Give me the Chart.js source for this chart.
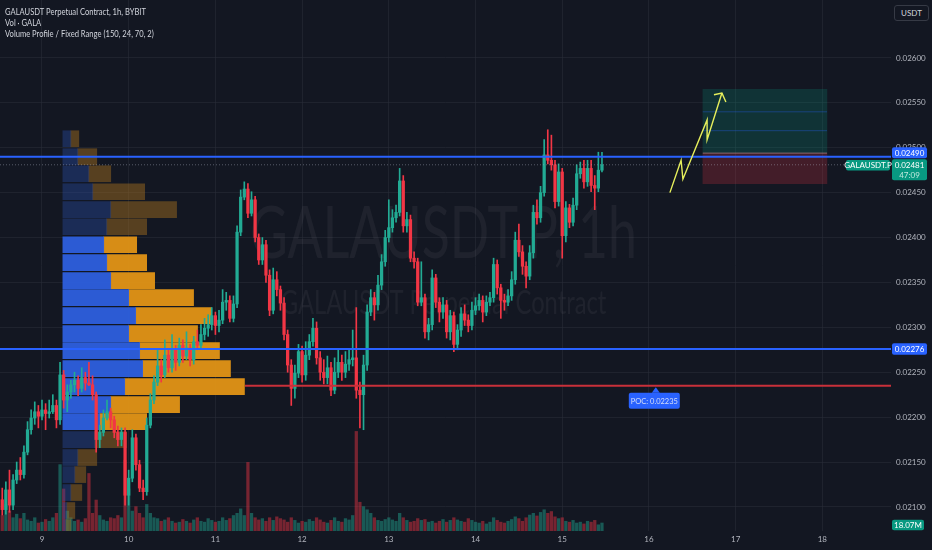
<!DOCTYPE html>
<html><head><meta charset="utf-8">
<script src="https://cdn.jsdelivr.net/npm/chart.js@4.4.1/dist/chart.umd.min.js"></script>
<style>
html,body{margin:0;padding:0;background:#131722;overflow:hidden}
#wrap{position:relative;width:932px;height:550px;background:#131722}
#c{position:absolute;left:0;top:0;width:932px;height:550px}
.lg{position:absolute;left:5px;color:#d1d4dc;font-family:Lato,"Noto Sans",sans-serif;font-size:9.5px;line-height:11px;white-space:nowrap;transform-origin:0 0;transform:scaleX(0.8)}
#cur{position:absolute;left:894px;top:5px;width:35px;height:16px;border:1px solid #363a45;border-radius:3px;box-sizing:border-box;color:#d1d4dc;font:8px Lato,sans-serif;line-height:14px;text-align:center;background:#131722}
</style></head><body>
<div id="wrap">
<canvas id="c" width="932" height="550"></canvas>
<div class="lg" style="top:6px">GALAUSDT Perpetual Contract, 1h, BYBIT</div>
<div class="lg" style="top:17px">Vol · GALA</div>
<div class="lg" style="top:28px">Volume Profile / Fixed Range (150, 24, 70, 2)</div>
<div id="cur">USDT</div>
</div>
<script>
// ---------- data ----------
const firstHour = -11;               // first candle: day 8, 13:00 (hours from day 9 00:00)
const dayTicks = [9,10,11,12,13,14,15,16,17,18];
const priceTicks = [0.021,0.0215,0.022,0.0225,0.023,0.0235,0.024,0.0245,0.025,0.0255,0.026];

const opens = [
0.02108,0.02097,0.02119,0.02102,0.02130,0.02141,0.02136,0.02161,0.02186,0.02199,
0.02206,0.02201,0.02208,0.02204,0.02206,0.02213,0.02197,0.02247,0.02219,0.02228,
0.02236,0.02241,0.02232,0.02244,0.02238,0.02236,0.02225,0.02175,0.02183,0.02199,
0.02206,0.02197,0.02183,0.02175,0.02183,0.02113,0.02132,0.02177,0.02147,0.02121,
0.02117,0.02191,0.02219,0.02239,0.02257,0.02247,0.02269,0.02255,0.02275,0.02261,
0.02280,0.02268,0.02277,0.02264,0.02284,0.02280,0.02292,0.02299,0.02303,0.02313,
0.02302,0.02308,0.02328,0.02330,0.02310,0.02326,0.02406,0.02445,0.02454,0.02427,
0.02442,0.02400,0.02375,0.02392,0.02358,0.02319,0.02353,0.02342,0.02327,0.02292,
0.02258,0.02232,0.02249,0.02273,0.02247,0.02269,0.02284,0.02299,0.02266,0.02250,
0.02244,0.02255,0.02230,0.02250,0.02261,0.02250,0.02259,0.02264,0.02266,0.02230,
0.02225,0.02258,0.02317,0.02333,0.02325,0.02347,0.02373,0.02400,0.02411,0.02422,
0.02428,0.02463,0.02413,0.02420,0.02377,0.02373,0.02328,0.02333,0.02295,0.02303,
0.02355,0.02328,0.02317,0.02325,0.02295,0.02313,0.02281,0.02297,0.02315,0.02308,
0.02302,0.02319,0.02324,0.02330,0.02317,0.02328,0.02333,0.02370,0.02344,0.02330,
0.02328,0.02335,0.02353,0.02397,0.02384,0.02368,0.02357,0.02383,0.02428,0.02422,
0.02450,0.02492,0.02486,0.02481,0.02440,0.02473,0.02402,0.02433,0.02417,0.02436,
0.02471,0.02477,0.02462,0.02477,0.02458,0.02455,0.02475];

const highs = [
0.02121,0.02128,0.02141,0.02136,0.02150,0.02155,0.02168,0.02195,0.02208,0.02217,
0.02213,0.02219,0.02215,0.02219,0.02225,0.02219,0.02261,0.02252,0.02236,0.02241,
0.02250,0.02246,0.02255,0.02250,0.02261,0.02246,0.02228,0.02191,0.02208,0.02219,
0.02210,0.02201,0.02190,0.02188,0.02188,0.02141,0.02186,0.02181,0.02152,0.02130,
0.02199,0.02226,0.02246,0.02275,0.02264,0.02286,0.02275,0.02292,0.02280,0.02288,
0.02286,0.02295,0.02281,0.02290,0.02297,0.02303,0.02310,0.02314,0.02322,0.02317,
0.02319,0.02342,0.02339,0.02335,0.02335,0.02413,0.02453,0.02462,0.02460,0.02451,
0.02446,0.02404,0.02400,0.02397,0.02364,0.02366,0.02362,0.02346,0.02333,0.02297,
0.02264,0.02258,0.02281,0.02279,0.02284,0.02292,0.02310,0.02306,0.02273,0.02264,
0.02268,0.02261,0.02266,0.02275,0.02269,0.02273,0.02275,0.02297,0.02322,0.02239,
0.02269,0.02325,0.02342,0.02339,0.02358,0.02381,0.02408,0.02442,0.02431,0.02436,
0.02477,0.02469,0.02428,0.02425,0.02384,0.02377,0.02373,0.02337,0.02310,0.02364,
0.02359,0.02333,0.02333,0.02330,0.02319,0.02317,0.02303,0.02322,0.02325,0.02314,
0.02328,0.02333,0.02337,0.02335,0.02335,0.02339,0.02377,0.02375,0.02348,0.02337,
0.02342,0.02362,0.02406,0.02415,0.02391,0.02373,0.02391,0.02436,0.02442,0.02457,
0.02509,0.02520,0.02514,0.02486,0.02482,0.02477,0.02440,0.02437,0.02444,0.02481,
0.02484,0.02486,0.02486,0.02486,0.02469,0.02495,0.02495];

const lows = [
0.02091,0.02092,0.02094,0.02097,0.02126,0.02130,0.02132,0.02158,0.02181,0.02192,
0.02188,0.02197,0.02186,0.02199,0.02204,0.02188,0.02192,0.02210,0.02206,0.02221,
0.02228,0.02224,0.02228,0.02230,0.02235,0.02219,0.02161,0.02166,0.02179,0.02197,
0.02188,0.02177,0.02168,0.02168,0.02102,0.02102,0.02128,0.02141,0.02117,0.02108,
0.02113,0.02188,0.02215,0.02235,0.02239,0.02244,0.02250,0.02250,0.02252,0.02257,
0.02261,0.02264,0.02257,0.02259,0.02275,0.02275,0.02286,0.02290,0.02297,0.02292,
0.02295,0.02304,0.02319,0.02306,0.02306,0.02322,0.02402,0.02442,0.02422,0.02424,
0.02395,0.02370,0.02370,0.02350,0.02313,0.02315,0.02335,0.02319,0.02286,0.02250,
0.02213,0.02221,0.02244,0.02239,0.02241,0.02264,0.02279,0.02259,0.02241,0.02237,
0.02237,0.02224,0.02226,0.02244,0.02241,0.02244,0.02252,0.02257,0.02221,0.02188,
0.02186,0.02252,0.02313,0.02308,0.02319,0.02342,0.02368,0.02395,0.02406,0.02417,
0.02424,0.02406,0.02406,0.02373,0.02366,0.02324,0.02324,0.02288,0.02286,0.02297,
0.02322,0.02306,0.02310,0.02288,0.02286,0.02273,0.02275,0.02290,0.02302,0.02295,
0.02297,0.02314,0.02319,0.02306,0.02313,0.02324,0.02328,0.02337,0.02310,0.02319,
0.02324,0.02330,0.02348,0.02379,0.02359,0.02344,0.02353,0.02377,0.02415,0.02417,
0.02446,0.02482,0.02475,0.02433,0.02435,0.02377,0.02395,0.02411,0.02413,0.02431,
0.02466,0.02455,0.02457,0.02451,0.02431,0.02451,0.02473];

const closes = [
0.02097,0.02119,0.02102,0.02130,0.02141,0.02136,0.02161,0.02186,0.02199,0.02206,
0.02201,0.02208,0.02204,0.02206,0.02213,0.02197,0.02247,0.02219,0.02228,0.02236,
0.02241,0.02232,0.02244,0.02238,0.02236,0.02225,0.02175,0.02183,0.02199,0.02206,
0.02197,0.02183,0.02175,0.02183,0.02113,0.02132,0.02177,0.02147,0.02121,0.02117,
0.02191,0.02219,0.02239,0.02257,0.02247,0.02269,0.02255,0.02275,0.02261,0.02280,
0.02268,0.02277,0.02264,0.02284,0.02280,0.02292,0.02299,0.02303,0.02313,0.02302,
0.02308,0.02328,0.02330,0.02310,0.02326,0.02406,0.02445,0.02454,0.02427,0.02442,
0.02400,0.02375,0.02392,0.02358,0.02319,0.02353,0.02342,0.02327,0.02292,0.02258,
0.02232,0.02249,0.02273,0.02247,0.02269,0.02284,0.02299,0.02266,0.02250,0.02244,
0.02255,0.02230,0.02250,0.02261,0.02250,0.02259,0.02264,0.02266,0.02230,0.02225,
0.02258,0.02317,0.02333,0.02325,0.02347,0.02373,0.02400,0.02411,0.02422,0.02428,
0.02463,0.02413,0.02420,0.02377,0.02373,0.02328,0.02333,0.02295,0.02303,0.02355,
0.02328,0.02317,0.02325,0.02295,0.02313,0.02281,0.02297,0.02315,0.02308,0.02302,
0.02319,0.02324,0.02330,0.02317,0.02328,0.02333,0.02370,0.02344,0.02330,0.02328,
0.02335,0.02353,0.02397,0.02384,0.02368,0.02357,0.02383,0.02428,0.02422,0.02450,
0.02492,0.02486,0.02481,0.02440,0.02473,0.02402,0.02433,0.02417,0.02436,0.02471,
0.02477,0.02462,0.02477,0.02458,0.02455,0.02475,0.02481];

const volumes = [ // millions
35,60,45,30,38,28,40,25,22,30,18,
20,26,22,30,40,150,95,45,30,22,
25,20,28,130,40,70,35,25,22,30,
28,35,30,160,95,45,55,40,30,60,
40,30,28,22,25,30,22,18,20,26,
22,18,25,30,22,20,28,24,20,22,
30,24,28,35,40,50,35,155,40,30,
25,28,22,30,24,32,28,25,20,30,
24,18,22,20,26,22,30,25,20,18,
24,30,22,20,28,25,35,225,65,55,
48,40,30,24,22,26,30,25,22,40,
30,24,20,22,28,24,26,20,22,18,
22,26,20,24,30,25,22,20,28,24,
20,18,22,16,20,30,24,20,18,22,
26,32,28,22,30,36,40,34,42,48,
40,44,32,28,30,22,20,24,18,20,
16,22,20,24,14,18.07];

// Volume profile (fixed range, rows of price)
const profilePrices = [0.02510,0.02490,0.02471,0.02451,0.02431,0.02412,0.02392,0.02372,0.02352,0.02333,0.02313,0.02293,0.02274,0.02254,0.02234,0.02214,0.02195,0.02175,0.02155,0.02136,0.02116,0.02096,0.02077];
const profileUp   = [16,30,52,60,96,88,82,88,96,132,146,132,154,160,124,96,74,64,30,24,16,8,6];
const profileDown = [16,38,44,104,132,80,66,80,88,130,152,138,160,176,240,138,94,64,38,22,22,16,10];
const profileValueArea = [false,false,false,false,false,false,true,true,true,true,true,true,true,true,true,true,true,false,false,false,false,false,false];
const pocPrice = 0.02235;
const pocStartHour = 56.2;

const levelLines = [0.02490, 0.02276];
const lastPrice = 0.02481;
const lastVolume = 18.07;
const countdown = '47:09';
const symbolTag = 'GALAUSDT.P';
const watermark = ['GALAUSDT.P, 1h', 'GALAUSDT Perpetual Contract'];

// Long position drawing
const positionHour = 200.1;
const positionStop = 0.02460, positionEntry = 0.02494, positionTarget = 0.02565;
const positionInnerLevels = [0.02540, 0.02519];
const positionFrom = 182.9, positionTo = 217.3;
// Yellow projection arrow
const arrowPath = [{x:173.8,y:0.02450},{x:176.9,y:0.02486},{x:177.4,y:0.02465},{x:184.1,y:0.02531},{x:184.1,y:0.02509},{x:188.2,y:0.02561}];
const arrowHead = [{x:186.0,y:0.02559},{x:188.2,y:0.02561},{x:189.3,y:0.02551}];
const pocLabelHour = 169.9;

// ---------- chart ----------
const xMin = -11.62, xMax = 235.0;
const yMin = 0.020732, yMax = 0.026645;
const UP = '#22ab94', DN = '#f23645';
const hours = closes.map((_, i) => firstHour + i);
const isUp = closes.map((c, i) => c >= opens[i]);
const candleCol = isUp.map(u => u ? UP : DN);
const volCol = isUp.map(u => u ? 'rgba(34,171,148,0.45)' : 'rgba(242,54,69,0.45)');

const hline = (p, x0, x1) => [{x:x0, y:p}, {x:x1, y:p}];

const datasets = [
  {type:'line', order:-3, data: arrowPath, borderColor:'#e6ef5c', borderWidth:1.4, pointRadius:0, tension:0},
  {type:'line', order:-3, data: arrowHead, borderColor:'#e6ef5c', borderWidth:1.4, pointRadius:0, tension:0},
  {type:'line', order:-2, data: hline(levelLines[0], xMin, xMax), borderColor:'#2962ff', borderWidth:2, pointRadius:0},
  {type:'line', order:-2, data: hline(levelLines[1], xMin, xMax), borderColor:'#2962ff', borderWidth:2, pointRadius:0},
  {type:'line', order:-2, data: hline(pocPrice, pocStartHour, xMax), borderColor:'#c9303a', borderWidth:2, pointRadius:0},
  {type:'line', order:-1, data: hline(lastPrice, xMin, xMax), borderColor:'rgba(170,176,190,0.45)', borderWidth:1, borderDash:[1,2], pointRadius:0},
  {type:'bar', order:0, grouped:false, barThickness:2.6, minBarLength:1,
   data: hours.map((h,i)=>({x:h, y:[opens[i], closes[i]]})), backgroundColor: candleCol},
  {type:'bar', order:1, grouped:false, barThickness:1,
   data: hours.map((h,i)=>({x:h, y:[lows[i], highs[i]]})), backgroundColor: candleCol},
  {type:'bar', order:3, grouped:false, indexAxis:'y', xAxisID:'xp', yAxisID:'y', barThickness:16,
   data: profilePrices.map((p,i)=>({x:[0, profileUp[i]], y:p})),
   backgroundColor: profileValueArea.map(v => v ? 'rgba(47,98,228,0.92)' : 'rgba(41,78,170,0.38)')},
  {type:'bar', order:3, grouped:false, indexAxis:'y', xAxisID:'xp', yAxisID:'y', barThickness:16,
   data: profilePrices.map((p,i)=>({x:[profileUp[i], profileUp[i]+profileDown[i]], y:p})),
   backgroundColor: profileValueArea.map(v => v ? 'rgba(232,152,22,0.92)' : 'rgba(170,115,30,0.45)')},
  {type:'bar', order:4, grouped:false, yAxisID:'yv', barThickness:2.6,
   data: hours.map((h,i)=>({x:h, y:volumes[i]})), backgroundColor: volCol},
  {type:'line', order:4, data: hline(positionInnerLevels[0], positionFrom, positionTo), borderColor:'rgba(41,98,255,0.35)', borderWidth:1, pointRadius:0},
  {type:'line', order:4, data: hline(positionInnerLevels[1], positionFrom, positionTo), borderColor:'rgba(41,98,255,0.35)', borderWidth:1, pointRadius:0},
  {type:'line', order:4, data: hline(positionEntry, positionFrom, positionTo), borderColor:'rgba(240,160,170,0.45)', borderWidth:1, pointRadius:0},
  {type:'bar', order:5, grouped:false, barThickness:124,
   data:[{x:positionHour, y:[positionEntry, positionTarget]}], backgroundColor:'rgba(8,153,129,0.22)'},
  {type:'bar', order:5, grouped:false, barThickness:124,
   data:[{x:positionHour, y:[positionStop, positionEntry]}], backgroundColor:'rgba(242,54,69,0.22)'}
];

const gridCol = 'rgba(42,46,57,0.55)';
const FONT = 'Lato, "Noto Sans", sans-serif';

const watermarkPlugin = {
  id:'wm',
  beforeDatasetsDraw(chart){
    const {ctx, chartArea:ca} = chart;
    ctx.save();
    ctx.fillStyle = 'rgba(255,255,255,0.05)';
    ctx.textAlign = 'center'; ctx.textBaseline = 'middle';
    ctx.translate((ca.left+ca.right)/2 - 2, 0);
    ctx.scale(0.72, 1);
    ctx.font = '72px ' + FONT; ctx.fillText(watermark[0], 0, 235);
    ctx.font = '33px ' + FONT; ctx.fillText(watermark[1], 0, 303);
    ctx.restore();
  }
};

function tag(ctx, x0, yc, w, h, bg, lines, fg){
  ctx.fillStyle = bg;
  ctx.beginPath(); ctx.roundRect(x0, yc - h/2, w, h, 2); ctx.fill();
  ctx.textAlign = 'center'; ctx.textBaseline = 'middle';
  const lh = h / lines.length;
  lines.forEach((t, k) => {
    ctx.fillStyle = (fg && fg[k]) || '#ffffff';
    ctx.fillText(t, x0 + w/2, yc - h/2 + lh*(k+0.5) + 0.5);
  });
}

const tagPlugin = {
  id:'tags',
  afterDraw(chart){
    const {ctx, scales} = chart;
    const y = scales.y, yv = scales.yv, x = scales.x;
    ctx.save();
    ctx.font = '8px ' + FONT;
    const fmt = v => v.toFixed(5);
    tag(ctx, 892, y.getPixelForValue(levelLines[0]) - 4, 35, 11, '#2962ff', [fmt(levelLines[0])]);
    tag(ctx, 892, y.getPixelForValue(lastPrice) + 5, 35, 21, '#089981', [fmt(lastPrice), countdown], ['#ffffff','#bfe9de']);
    tag(ctx, 846, y.getPixelForValue(lastPrice) + 0.5, 44, 10.5, '#089981', [symbolTag]);
    tag(ctx, 892, y.getPixelForValue(levelLines[1]), 35, 11.5, '#2962ff', [fmt(levelLines[1])]);
    tag(ctx, 892, yv.getPixelForValue(lastVolume) + 2, 32, 10.5, '#089981', [lastVolume.toFixed(2) + 'M']);
    const px = x.getPixelForValue(pocLabelHour), py = y.getPixelForValue(pocPrice);
    ctx.fillStyle = '#2962ff';
    ctx.beginPath(); ctx.moveTo(px - 4, py + 7); ctx.lineTo(px, py + 1.5); ctx.lineTo(px + 4, py + 7); ctx.fill();
    ctx.font = '7.5px ' + FONT;
    tag(ctx, px - 27, py + 15, 51, 16, '#2962ff', ['POC: ' + fmt(pocPrice)], ['#d6def8']);
    ctx.restore();
  }
};

new Chart(document.getElementById('c'), {
  type:'bar',
  data:{datasets},
  options:{
    responsive:false, animation:false, devicePixelRatio:1,
    layout:{padding:0},
    plugins:{legend:{display:false}, tooltip:{enabled:false}},
    scales:{
      x:{type:'linear', axis:'x', position:'bottom', min:xMin, max:xMax, offset:false,
         grid:{color:gridCol, drawTicks:false, offset:false}, border:{display:false},
         afterBuildTicks: s => { s.ticks = dayTicks.map(d => ({value:(d-9)*24})); },
         afterFit: s => { s.height = 19; s.paddingLeft = 0; s.paddingRight = 0; },
         ticks:{autoSkip:false, maxRotation:0, color:'#b2b5be', font:{size:8, family:FONT}, padding:4,
                callback:(v, i) => String(dayTicks[i])}},
      xp:{type:'linear', axis:'x', display:false, min:-126, max:1660, offset:false, grid:{offset:false}},
      y:{type:'linear', axis:'y', position:'right', min:yMin, max:yMax, beginAtZero:false, offset:false,
         grid:{color:gridCol, drawTicks:false, offset:false}, border:{display:false},
         afterBuildTicks: s => { s.ticks = priceTicks.map(v => ({value:v})); },
         afterFit: s => { s.width = 41; s.paddingTop = 0; s.paddingBottom = 0; },
         ticks:{color:'#b2b5be', font:{size:8, family:FONT}, padding:5, callback: v => v.toFixed(5)}},
      yv:{type:'linear', axis:'y', display:false, min:0, max:1200, beginAtZero:true, offset:false}
    }
  },
  plugins:[watermarkPlugin, tagPlugin]
});
</script>
</body></html>
